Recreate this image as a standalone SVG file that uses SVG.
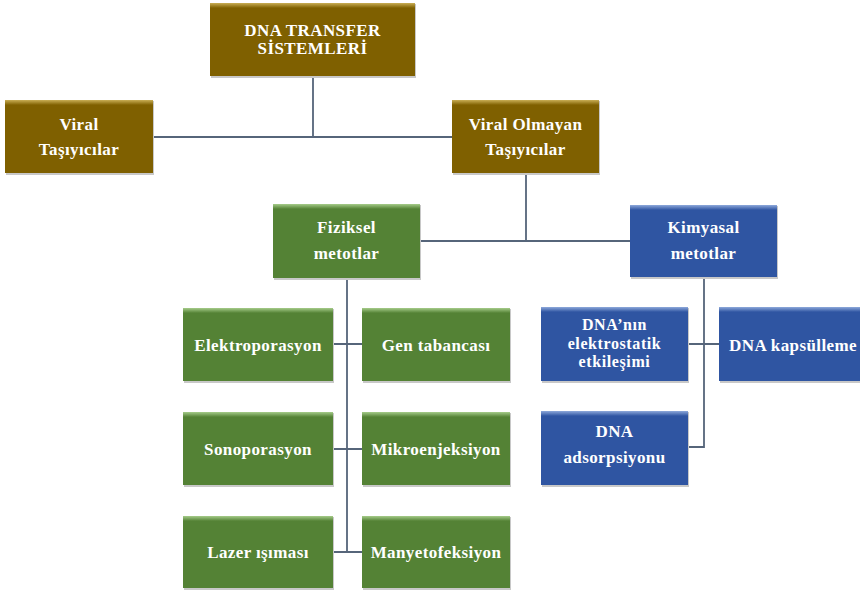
<svg xmlns="http://www.w3.org/2000/svg" width="860" height="592" viewBox="0 0 860 592">
<defs>
<linearGradient id="gB" x1="0" y1="0" x2="0" y2="1"><stop offset="0" stop-color="#C9AE55"/><stop offset="1" stop-color="#7F6000"/></linearGradient>
<linearGradient id="gG" x1="0" y1="0" x2="0" y2="1"><stop offset="0" stop-color="#A6CC8A"/><stop offset="1" stop-color="#548235"/></linearGradient>
<linearGradient id="gL" x1="0" y1="0" x2="0" y2="1"><stop offset="0" stop-color="#8EA9DB"/><stop offset="1" stop-color="#2F55A2"/></linearGradient>
</defs>
<style>
.sh{fill:#C8C8C8;}
.b{fill:#7F6000;}
.g{fill:#548235;}
.l{fill:#2F55A2;}
.hb{fill:url(#gB);}
.hg{fill:url(#gG);}
.hl{fill:url(#gL);}
.t{font-family:'Liberation Serif','DejaVu Serif',serif;font-weight:bold;font-size:17px;fill:#FFFFFF;text-anchor:middle;letter-spacing:0.4px;}
.s{font-size:16px;letter-spacing:0.6px;}
.c{stroke:#56657A;stroke-width:1.8;fill:none;}
</style>
<g id="connectors">
<path class="c" d="M313,76V137M153,137H452"/>
<path class="c" d="M526,173V241M420,241H630"/>
<path class="c" d="M347,278V552M333,344H362M333,449H362M333,552H362"/>
<path class="c" d="M704,277V447H688M688,344H719"/>
</g>
<g id="top">
<rect class="sh" x="211" y="4" width="205" height="74"/>
<rect class="b" x="210" y="3" width="205" height="73"/>
<rect class="hb" x="210" y="3" width="205" height="5"/>
<text class="t" x="312.5" y="36">DNA TRANSFER</text>
<text class="t" x="312.5" y="54">SİSTEMLERİ</text>
</g>
<g id="viral">
<rect class="sh" x="6" y="101" width="148" height="74"/>
<rect class="b" x="5" y="100" width="148" height="73"/>
<rect class="hb" x="5" y="100" width="148" height="5"/>
<text class="t" x="79" y="130">Viral</text>
<text class="t" x="79" y="155">Taşıyıcılar</text>
</g>
<g id="viral-olmayan">
<rect class="sh" x="453" y="101" width="147" height="74"/>
<rect class="b" x="452" y="100" width="147" height="73"/>
<rect class="hb" x="452" y="100" width="147" height="5"/>
<text class="t" x="525.5" y="130">Viral Olmayan</text>
<text class="t" x="525.5" y="155">Taşıyıcılar</text>
</g>
<g id="fiziksel">
<rect class="sh" x="274" y="205" width="147" height="75"/>
<rect class="g" x="273" y="204" width="147" height="74"/>
<rect class="hg" x="273" y="204" width="147" height="5"/>
<text class="t" x="346.5" y="233">Fiziksel</text>
<text class="t" x="346.5" y="259">metotlar</text>
</g>
<g id="kimyasal">
<rect class="sh" x="631" y="206" width="147" height="73"/>
<rect class="l" x="630" y="205" width="147" height="72"/>
<rect class="hl" x="630" y="205" width="147" height="5"/>
<text class="t" x="703.5" y="233">Kimyasal</text>
<text class="t" x="703.5" y="259">metotlar</text>
</g>
<g id="elektroporasyon">
<rect class="sh" x="184" y="309" width="150" height="74"/>
<rect class="g" x="183" y="308" width="150" height="73"/>
<rect class="hg" x="183" y="308" width="150" height="5"/>
<text class="t" x="258" y="351">Elektroporasyon</text>
</g>
<g id="gen-tabancasi">
<rect class="sh" x="363" y="309" width="148" height="74"/>
<rect class="g" x="362" y="308" width="148" height="73"/>
<rect class="hg" x="362" y="308" width="148" height="5"/>
<text class="t" x="436" y="351">Gen tabancası</text>
</g>
<g id="sonoporasyon">
<rect class="sh" x="184" y="413" width="150" height="74"/>
<rect class="g" x="183" y="412" width="150" height="73"/>
<rect class="hg" x="183" y="412" width="150" height="5"/>
<text class="t" x="258" y="455">Sonoporasyon</text>
</g>
<g id="mikroenjeksiyon">
<rect class="sh" x="363" y="413" width="148" height="74"/>
<rect class="g" x="362" y="412" width="148" height="73"/>
<rect class="hg" x="362" y="412" width="148" height="5"/>
<text class="t" x="436" y="455">Mikroenjeksiyon</text>
</g>
<g id="lazer">
<rect class="sh" x="184" y="517" width="150" height="73"/>
<rect class="g" x="183" y="516" width="150" height="72"/>
<rect class="hg" x="183" y="516" width="150" height="5"/>
<text class="t" x="258" y="558">Lazer ışıması</text>
</g>
<g id="manyetofeksiyon">
<rect class="sh" x="363" y="517" width="148" height="73"/>
<rect class="g" x="362" y="516" width="148" height="72"/>
<rect class="hg" x="362" y="516" width="148" height="5"/>
<text class="t" x="436" y="558">Manyetofeksiyon</text>
</g>
<g id="dna-elektrostatik">
<rect class="sh" x="542" y="308" width="147" height="75"/>
<rect class="l" x="541" y="307" width="147" height="74"/>
<rect class="hl" x="541" y="307" width="147" height="5"/>
<text class="t s" x="614.5" y="330">DNA’nın</text>
<text class="t s" x="614.5" y="348.5">elektrostatik</text>
<text class="t s" x="614.5" y="367">etkileşimi</text>
</g>
<g id="dna-kapsulleme">
<rect class="sh" x="720" y="308" width="145" height="75"/>
<rect class="l" x="719" y="307" width="145" height="74"/>
<rect class="hl" x="719" y="307" width="145" height="5"/>
<text class="t" x="793" y="351">DNA kapsülleme</text>
</g>
<g id="dna-adsorpsiyonu">
<rect class="sh" x="542" y="412" width="147" height="75"/>
<rect class="l" x="541" y="411" width="147" height="74"/>
<rect class="hl" x="541" y="411" width="147" height="5"/>
<text class="t" x="614.5" y="437">DNA</text>
<text class="t" x="614.5" y="463">adsorpsiyonu</text>
</g>
</svg>
